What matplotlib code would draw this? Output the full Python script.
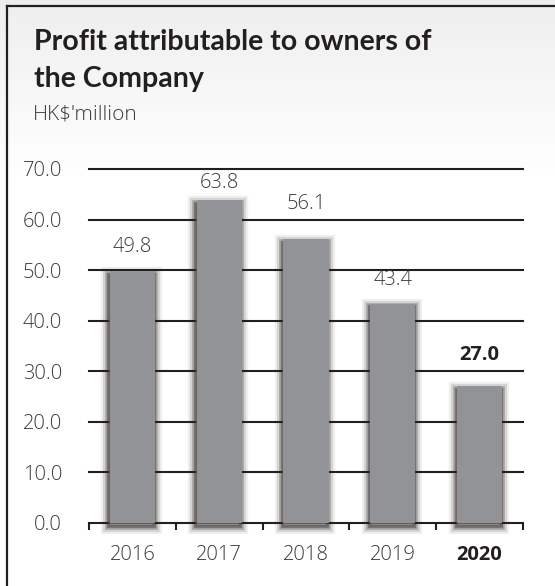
"""Profit attributable to owners of the Company, 2016-2020 bar chart."""

import matplotlib

matplotlib.use("Agg")
import matplotlib.pyplot as plt
import matplotlib.patheffects as pe
import numpy as np
from matplotlib.lines import Line2D

years = ["2016", "2017", "2018", "2019", "2020"]
profit = [49.8, 63.8, 56.1, 43.4, 27.0]
y_ticks = [0, 10, 20, 30, 40, 50, 60, 70]
highlight = "2020"

# vertical gap (px) between each bar top and its value label
label_gap_px = [14, 7, 25, 14, 21]

W, H, DPI = 555, 586, 100
BAR = "#929397"
SHADOW = "#2a1f1c"
INK = "#231f20"
TEXT = "#3a3a3a"
NUM_SIZE = 14.5

plt.rcParams["font.family"] = ["Open Sans", "DejaVu Sans"]

fig = plt.figure(figsize=(W / DPI, H / DPI), dpi=DPI)


def px(x, y):
    return x / W, 1 - y / H


# soft grey wash fading to white behind the header
bg = fig.add_axes([0, 0, 1, 1], zorder=-10)
grad = np.linspace(0, 1, 300)[:, None]
grad = np.clip(grad / 0.3, 0, 1)
shade = 0.935 + 0.065 * grad
bg.imshow(np.dstack([shade, shade, shade]), aspect="auto", extent=[0, 1, 0, 1])
bg.set_xlim(0, 1)
bg.set_ylim(0, 1)
bg.axis("off")

# frame: top and left rules only
x0, y0 = px(7, 6)
fig.add_artist(Line2D([x0, 1.0], [y0, y0], color=INK, lw=1.6, transform=fig.transFigure))
fig.add_artist(Line2D([x0, x0], [y0, 0.0], color=INK, lw=1.6, transform=fig.transFigure))

# header
title_font = dict(family=["Lato", "DejaVu Sans"], fontsize=20.5, fontweight="bold",
                  color=INK, va="baseline")
fig.text(*px(34, 50), "Profit attributable to owners of", **title_font)
fig.text(*px(34, 87), "the Company", **title_font)
fig.text(*px(33, 120), "HK$'million", fontsize=15, fontweight="light", color=TEXT,
         va="baseline")

left, right = 89 / W, 523 / W
bottom, top = 1 - 523 / H, 1 - 169 / H
ax = fig.add_axes([left, bottom, right - left, top - bottom])
ax.patch.set_alpha(0)

x = np.arange(len(years))
ax.set_xlim(-0.5, len(years) - 0.5)
ax.set_ylim(0, 70)

for t in y_ticks[1:]:
    ax.axhline(t, color=INK, lw=1.5, zorder=1, clip_on=False)

# soft drop shadow, nudged down and to the left
off = (-1.0, -1.8)
shadow = [
    pe.Stroke(offset=off, linewidth=11, foreground=SHADOW, alpha=0.07),
    pe.Stroke(offset=off, linewidth=8, foreground=SHADOW, alpha=0.13),
    pe.Stroke(offset=off, linewidth=5, foreground=SHADOW, alpha=0.22),
    pe.Stroke(offset=off, linewidth=2.5, foreground=SHADOW, alpha=0.40),
    pe.Normal(),
]
bars = ax.bar(x, profit, width=0.52, color=BAR, zorder=3, linewidth=0, clip_on=False)
for b in bars:
    b.set_path_effects(shadow)

for xi, v, yr, gap in zip(x, profit, years, label_gap_px):
    bold = yr == highlight
    ax.annotate(f"{v:.1f}", (xi, v), xytext=(0, gap * 72 / DPI), textcoords="offset points",
                ha="center", va="bottom", fontsize=NUM_SIZE,
                fontweight="bold" if bold else "light",
                color=INK if bold else TEXT, zorder=4)

for s in ["top", "right", "left"]:
    ax.spines[s].set_visible(False)
ax.spines["bottom"].set_color(INK)
ax.spines["bottom"].set_linewidth(1.5)
ax.spines["bottom"].set_zorder(2)

ax.set_yticks(y_ticks)
ax.set_yticklabels([f"{t:.1f}" for t in y_ticks], fontsize=NUM_SIZE, fontweight="light",
                   color=TEXT)
ax.tick_params(axis="y", length=0, pad=19.5)

ax.set_xticks(x)
ax.set_xticklabels(years, fontsize=NUM_SIZE, fontweight="light", color=TEXT)
ax.set_xticks(np.arange(len(years) + 1) - 0.5, minor=True)
ax.tick_params(axis="x", which="major", length=0, pad=16)
ax.tick_params(axis="x", which="minor", length=5, width=1.5, color=INK, direction="out")
for lbl in ax.get_xticklabels():
    if lbl.get_text() == highlight:
        lbl.set_fontweight("bold")
        lbl.set_color(INK)

fig.savefig("out.png", dpi=DPI)
